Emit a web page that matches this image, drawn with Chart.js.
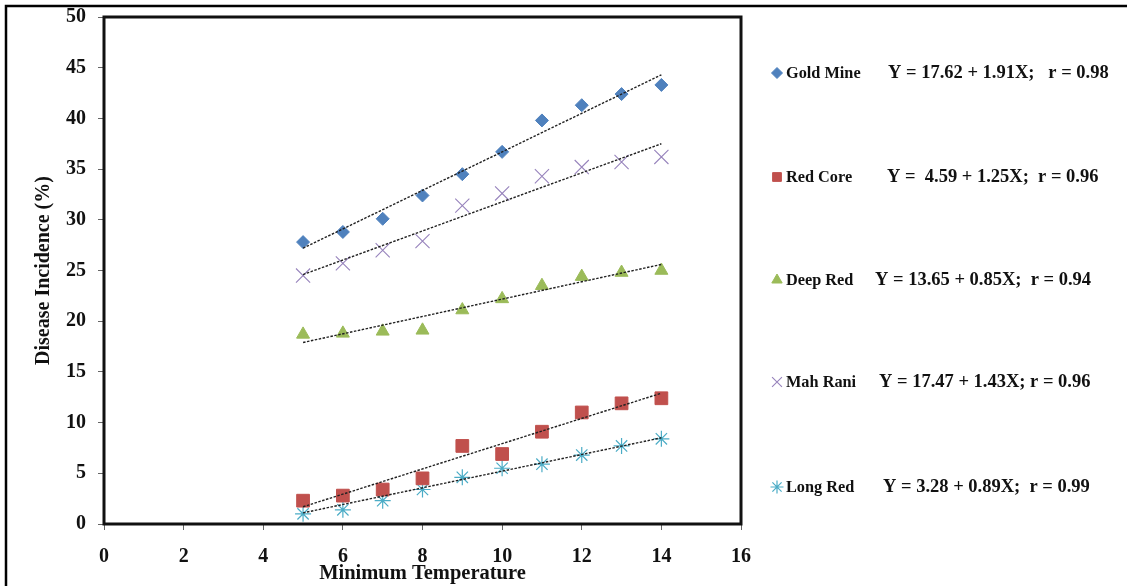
<!DOCTYPE html>
<html>
<head>
<meta charset="utf-8">
<script src="https://cdn.jsdelivr.net/npm/chart.js"></script>
<style>
html,body{margin:0;padding:0;background:#fff;}
#wrap{position:relative;width:1127px;height:586px;}
</style>
</head>
<body>
<div id="wrap"><canvas id="c" width="1127" height="586"></canvas></div>
<script>
// ---- data ----
const temperature = [5, 6, 7, 8, 9, 10, 11, 12, 13, 14];
const goldMine = [27.8, 28.8, 30.1, 32.4, 34.5, 36.7, 39.8, 41.3, 42.4, 43.3];
const redCore  = [2.3, 2.8, 3.4, 4.5, 7.7, 6.9, 9.1, 11.0, 11.9, 12.4];
const deepRed  = [18.7, 18.8, 19.0, 19.1, 21.1, 22.2, 23.5, 24.4, 24.8, 25.0];
const mahRani  = [24.5, 25.7, 27.0, 27.9, 31.4, 32.6, 34.3, 35.2, 35.7, 36.2];
const longRed  = [1.0, 1.4, 2.3, 3.4, 4.6, 5.5, 5.9, 6.8, 7.7, 8.4];

// trendline endpoints (at x = 5 and x = 14)
const trendX = [5, 14];
const goldMineTrend = [27.2, 44.3];
const redCoreTrend  = [1.7, 12.9];
const deepRedTrend  = [17.9, 25.6];
const mahRaniTrend  = [24.6, 37.5];
const longRedTrend  = [1.1, 8.5];

const seriesNames = ['Gold Mine', 'Red Core', 'Deep Red', 'Mah Rani', 'Long Red'];
const equations = [
  'Y = 17.62 + 1.91X;   r = 0.98',
  'Y =  4.59 + 1.25X;  r = 0.96',
  'Y = 13.65 + 0.85X;  r = 0.94',
  'Y = 17.47 + 1.43X; r = 0.96',
  'Y = 3.28 + 0.89X;  r = 0.99'
];
const xTicks = [0, 2, 4, 6, 8, 10, 12, 14, 16];
const yTicks = [0, 5, 10, 15, 20, 25, 30, 35, 40, 45, 50];

// ---- styles ----
const styles = [
  {pointStyle: 'rectRot', color: '#4F81BD', radius: 6.5, bw: 1, fill: true},
  {pointStyle: 'rect', color: '#C0504D', radius: 9, bw: 1, fill: true},
  {pointStyle: 'triangle', color: '#9BBB59', radius: 7.5, bw: 1, fill: true},
  {pointStyle: 'crossRot', color: '#9783BC', radius: 10, bw: 1.1, fill: false},
  {pointStyle: 'star', color: '#4BACC6', radius: 8, bw: 1.2, fill: false}
];
const legendLayout = [
  {y: 73, mx: 777, mr: 5.5, eqX: 888},
  {y: 177, mx: 777, mr: 6.2, eqX: 887},
  {y: 280, mx: 777, mr: 6, eqX: 875},
  {y: 382, mx: 777, mr: 7, eqX: 879},
  {y: 487, mx: 777, mr: 6.5, eqX: 883}
];

const values = [goldMine, redCore, deepRed, mahRani, longRed];
const trends = [goldMineTrend, redCoreTrend, deepRedTrend, mahRaniTrend, longRedTrend];

const datasets = [];
trends.forEach((t, i) => {
  datasets.push({
    label: seriesNames[i] + ' trend',
    data: trendX.map((x, k) => ({x: x, y: t[k]})),
    showLine: true,
    borderColor: '#222',
    borderWidth: 1.4,
    borderDash: [2.5, 1.5],
    pointRadius: 0,
    pointHoverRadius: 0,
    fill: false,
    order: 0
  });
});
values.forEach((v, i) => {
  const s = styles[i];
  datasets.push({
    label: seriesNames[i],
    data: temperature.map((x, k) => ({x: x, y: v[k]})),
    showLine: false,
    pointStyle: s.pointStyle,
    pointRadius: s.radius,
    pointHoverRadius: s.radius,
    pointBackgroundColor: s.fill ? s.color : 'transparent',
    pointBorderColor: s.color,
    pointBorderWidth: s.bw,
    order: 1
  });
});

const serif = "'Liberation Serif', 'Times New Roman', serif";

const framePlugin = {
  id: 'frame',
  afterDraw(chart) {
    const ctx = chart.ctx;
    const a = chart.chartArea;
    ctx.save();
    // outer frame (left & top edges visible)
    ctx.strokeStyle = '#000';
    ctx.lineWidth = 2.5;
    ctx.beginPath();
    ctx.moveTo(6, 586);
    ctx.lineTo(6, 6);
    ctx.lineTo(1127, 6);
    ctx.stroke();
    // plot frame
    ctx.lineWidth = 3;
    ctx.strokeStyle = '#111';
    ctx.strokeRect(a.left, a.top, a.right - a.left, a.bottom - a.top);

    // custom legend with equations
    ctx.textBaseline = 'middle';
    ctx.textAlign = 'left';
    legendLayout.forEach((L, i) => {
      const s = styles[i];
      ctx.save();
      const opts = {pointStyle: s.pointStyle, radius: L.mr, rotation: 0, borderWidth: s.bw};
      ctx.fillStyle = s.color;
      ctx.strokeStyle = s.color;
      ctx.lineWidth = s.bw;
      Chart.helpers.drawPoint(ctx, opts, L.mx, L.y);
      ctx.restore();
      ctx.fillStyle = '#111';
      ctx.font = "bold 16.3px " + serif;
      ctx.fillText(seriesNames[i], 786, L.y + 1);
      ctx.font = "bold 18.5px " + serif;
      ctx.fillText(equations[i], L.eqX, L.y);
    });
    ctx.restore();
  }
};

new Chart(document.getElementById('c'), {
  type: 'scatter',
  data: {datasets: datasets},
  plugins: [framePlugin],
  options: {
    responsive: false,
    animation: false,
    events: [],
    layout: {padding: {top: 17, right: 386, bottom: 0, left: 0}},
    plugins: {legend: {display: false}, tooltip: {enabled: false}},
    scales: {
      x: {
        type: 'linear',
        min: 0, max: 16,
        afterBuildTicks(scale) { scale.ticks = xTicks.map(v => ({value: v})); },
        afterFit(scale) { scale.height = 62; scale.paddingLeft = 0; scale.paddingRight = 0; },
        grid: {display: true, drawOnChartArea: false, drawTicks: true, tickLength: 6, color: '#666'},
        border: {display: false},
        ticks: {color: '#111', padding: 15, font: {family: serif, size: 20, weight: 'bold'}},
        title: {display: true, text: 'Minimum Temperature', color: '#111', padding: {top: 0, bottom: 0},
                font: {family: serif, size: 20.5, weight: 'bold'}}
      },
      y: {
        type: 'linear',
        min: 0, max: 50,
        afterBuildTicks(scale) { scale.ticks = yTicks.map(v => ({value: v})); },
        afterFit(scale) { scale.width = 104; scale.paddingTop = 0; scale.paddingBottom = 0; },
        grid: {display: true, drawOnChartArea: false, drawTicks: true, tickLength: 6, color: '#666'},
        border: {display: false},
        ticks: {color: '#111', padding: 12, font: {family: serif, size: 20, weight: 'bold'}},
        title: {display: true, text: 'Disease Incidence (%)', color: '#111', padding: {top: 31.5, bottom: 0},
                font: {family: serif, size: 20, weight: 'bold'}}
      }
    }
  }
});
</script>
</body>
</html>
